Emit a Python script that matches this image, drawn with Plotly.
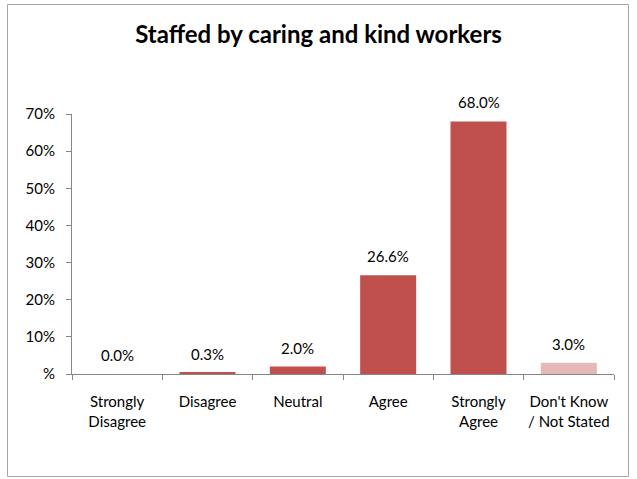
import plotly.graph_objects as go

categories = ["Strongly<br>Disagree", "Disagree", "Neutral", "Agree",
              "Strongly<br>Agree", "Don't Know<br>/ Not Stated"]
values = [0.0, 0.3, 2.0, 26.6, 68.0, 3.0]
bar_colors = ["#C0504D", "#C0504D", "#C0504D", "#C0504D", "#C0504D", "#E6B9B8"]
tick_values = [0, 10, 20, 30, 40, 50, 60, 70]
tick_labels = ["%", "10%", "20%", "30%", "40%", "50%", "60%", "70%"]

W, H = 637, 479
L, R, T, B = 72, 23, 114, 105
pw, ph = W - L - R, H - T - B

font = "Lato, Calibri, Carlito, sans-serif"

fig = go.Figure(go.Bar(
    x=categories, y=values, marker_color=bar_colors,
    marker_line_width=0, width=0.62,
))

for c, v in zip(categories, values):
    fig.add_annotation(x=c, y=v, text=f"{v:.1f}%", showarrow=False,
                       yanchor="bottom", yshift=8,
                       font=dict(family=font, size=15, color="#000000"))

# outer chart border
def px_x(p):
    return (p - L) / pw

def px_y(p):
    return (H - B - p) / ph

fig.add_shape(type="rect", xref="paper", yref="paper",
              x0=px_x(7.5), x1=px_x(628.5), y0=px_y(4.5), y1=px_y(476.5),
              line=dict(color="#A6A6A6", width=1), layer="below")

fig.update_layout(
    width=W, height=H,
    margin=dict(l=L, r=R, t=T, b=B),
    paper_bgcolor="white", plot_bgcolor="white",
    showlegend=False,
    title=dict(text="<b>Staffed by caring and kind workers</b>",
               x=0.5, xref="container", xanchor="center",
               y=1 - 35 / H, yanchor="middle",
               font=dict(family=font, size=24, color="#000000")),
    font=dict(family=font, size=15, color="#000000"),
    bargap=0.38,
)

fig.update_xaxes(
    showline=True, linecolor="#868686", linewidth=1,
    ticks="outside", tickson="boundaries", ticklen=5, tickcolor="#868686",
    tickfont=dict(family=font, size=15, color="#000000"),
    tickangle=0, automargin=False,
    ticklabelstandoff=14,
    showgrid=False,
)
fig.update_yaxes(
    range=[0, 70], tickvals=tick_values, ticktext=tick_labels,
    showline=True, linecolor="#868686", linewidth=1,
    ticks="outside", ticklen=5, tickcolor="#868686",
    tickfont=dict(family=font, size=15, color="#000000"),
    automargin=False,
    ticklabelstandoff=8,
    showgrid=False, zeroline=False,
)

fig.write_html("out.html")
